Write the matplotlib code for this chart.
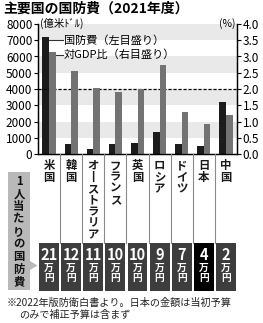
import matplotlib
matplotlib.use("Agg")
import matplotlib.pyplot as plt
from matplotlib.transforms import blended_transform_factory
from matplotlib.patches import Rectangle, Polygon

plt.rcParams['font.family'] = ['Noto Sans CJK JP', 'DejaVu Sans']

# ---- data ----
countries = ['米国', '韓国', 'オーストラリア', 'フランス', '英国', 'ロシア', 'ドイツ', '日本', '中国']
spending = [7200, 650, 310, 650, 680, 1350, 610, 530, 3230]          # 億米ドル
gdp_ratio = [3.13, 2.57, 2.04, 1.92, 2.00, 2.74, 1.31, 0.94, 1.20]   # %
per_capita = [21, 12, 11, 10, 10, 9, 7, 4, 2]                        # 万円
highlight = '日本'
left_ticks = [0, 1000, 2000, 3000, 4000, 5000, 6000, 7000, 8000]
right_ticks = [0.0, 0.5, 1.0, 1.5, 2.0, 2.5, 3.0, 3.5, 4.0]

W, H = 263, 323
fig = plt.figure(figsize=(W / 100, H / 100), dpi=100)
fig.patch.set_facecolor('white')

def fy(px):
    return 1 - px / H

def fx(px):
    return px / W

def vertical(s):
    return '\n'.join('丨' if ch == 'ー' else ch for ch in s)

ax_left, ax_right = 38, 237
ax_bottom, ax_top = 154.3, 23.9
ax = fig.add_axes([fx(ax_left), fy(ax_bottom), fx(ax_right - ax_left), (ax_bottom - ax_top) / H])
ax2 = ax.twinx()

x = list(range(len(countries)))
bw = 0.3
black = '#1c1c1c'
grey = '#737373'

# background bands
for lo in [1000, 3000, 5000, 7000]:
    ax.axhspan(lo, lo + 1000, color='#e9e9e9', zorder=0, lw=0)

ax.bar([i - bw / 2 for i in x], spending, width=bw, color=black, zorder=2)
ax2.bar([i + bw / 2 for i in x], gdp_ratio, width=bw, color=grey, zorder=2)
ax.axhline(4000, color='black', ls=(0, (2.5, 1.5)), lw=0.9, zorder=3)

ax.set_xlim(-0.5, len(countries) - 0.5)
ax.set_ylim(0, 8000)
ax2.set_ylim(0, 4)
ax.set_yticks(left_ticks)
ax.set_yticklabels([str(t) for t in left_ticks])
ax2.set_yticks(right_ticks)
ax2.set_yticklabels([f'{t:.1f}' for t in right_ticks])
ax.set_xticks([i + 0.5 for i in x[:-1]])
ax.set_xticklabels([])
ax.tick_params(axis='x', length=0)
ax2.tick_params(axis='x', length=0)
for a in (ax, ax2):
    a.spines['top'].set_visible(False)
    for s in a.spines.values():
        s.set_linewidth(0.9)
ax.tick_params(axis='y', direction='out', length=3, width=0.8, labelsize=8.5, pad=1)
ax2.tick_params(axis='y', direction='out', length=3, width=0.8, labelsize=8.5, pad=1)

# units
ax.text(0.01, 8000, '(億米ﾄﾞﾙ)', fontsize=7.5, va='center', ha='left',
        transform=blended_transform_factory(ax.transAxes, ax.transData))
ax2.text(0.99, 4.0, '(%)', fontsize=7.5, va='center', ha='right',
         transform=blended_transform_factory(ax2.transAxes, ax2.transData))

# legend callouts
tx = 0.68
ax.plot([0, tx - 0.03], [7000, 7000], color='#333333', lw=0.8, zorder=3)
ax2.plot([bw, tx - 0.03], [3.05, 3.05], color='#333333', lw=0.8, zorder=3)
ax.text(tx, 7000, '国防費（左目盛り）', fontsize=8, va='center', ha='left', zorder=4)
ax2.text(tx, 3.05, '対GDP比（右目盛り）', fontsize=8, va='center', ha='left', zorder=4)

# ---- lower section ----
bt = blended_transform_factory(ax.transData, fig.transFigure)

for i in x[:-1]:
    fig.lines.append(plt.Line2D([i + 0.5, i + 0.5], [fy(ax_bottom), fy(243)], transform=bt,
                                color='#8a8a8a', lw=0.8))

for i, name in enumerate(countries):
    fig.text(i, fy(159), vertical(name), transform=bt, fontsize=8.2, fontweight='bold',
             ha='center', va='top', linespacing=0.85, color='#1a1a1a')

# side label
fig.patches.append(Rectangle((fx(8), fy(290)), fx(22), (290 - 172) / H, transform=fig.transFigure,
                             facecolor='#b9b9b9', edgecolor='none'))
fig.patches.append(Polygon([(fx(30), fy(261)), (fx(37.5), fy(265.5)), (fx(30), fy(270))], closed=True,
                           transform=fig.transFigure, facecolor='#b9b9b9', edgecolor='none'))
fig.text(fx(19), fy(175), vertical('1人当たりの国防費'), fontsize=8.2, fontweight='bold',
         ha='center', va='top', linespacing=0.95, color='#111111')

# per-capita boxes
for i, (name, v) in enumerate(zip(countries, per_capita)):
    col = '#000000' if name == highlight else '#3d3d3d'
    fig.patches.append(Rectangle((i - 0.45, fy(291)), 0.9, (291 - 243) / H, transform=bt,
                                 facecolor=col, edgecolor='none'))
    fig.text(i, fy(254.5), str(v), transform=bt, fontsize=10.5, fontweight='bold', color='white',
             ha='center', va='center')
    fig.text(i, fy(273), '万\n円', transform=bt, fontsize=7, fontweight='bold', color='white',
             ha='center', va='center', linespacing=0.95)

# title & note
fig.text(fx(3), fy(9), '主要国の国防費（2021年度）', fontsize=10, fontweight='bold', ha='left', va='center')
fig.text(fx(7), fy(302.5), '※2022年版防衛白書より。日本の金額は当初予算', fontsize=7.3, ha='left',
         va='center', color='#222222')
fig.text(fx(19), fy(314.5), 'のみで補正予算は含まず', fontsize=7.3, ha='left', va='center', color='#222222')

fig.savefig('out.png', dpi=100)
